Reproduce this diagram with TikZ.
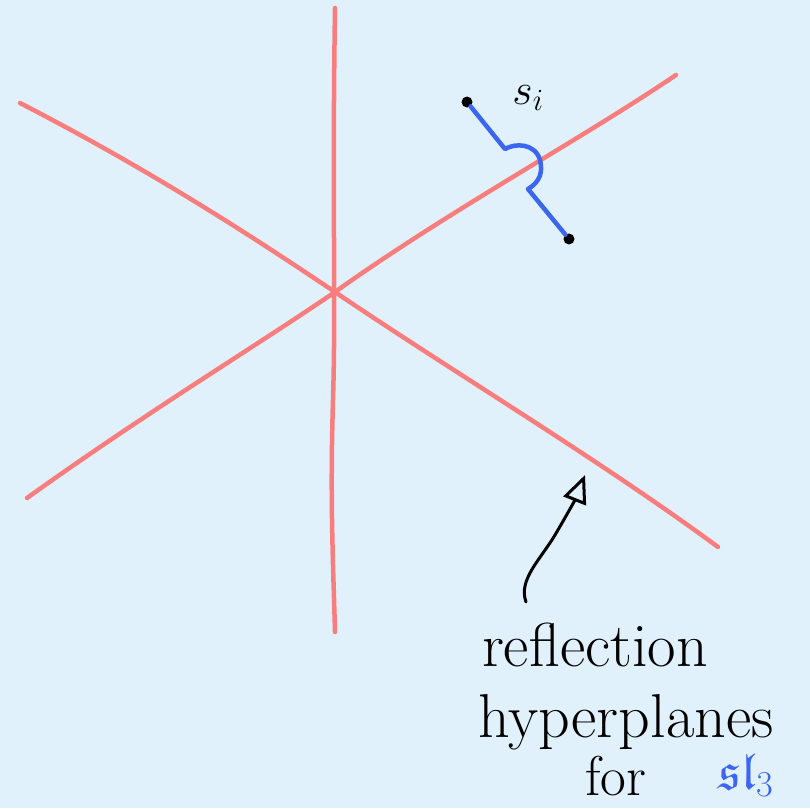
\RequirePackage{fix-cm}
\documentclass[tikz,border=0pt]{standalone}
\usepackage{amssymb}
\usetikzlibrary{arrows.meta}
\definecolor{bg}{HTML}{E1F1FC}
\definecolor{redline}{HTML}{F87E7E}
\definecolor{pathblue}{HTML}{3A66F0}
\tikzset{
  plane/.style={draw=redline, line width=4.5pt, line cap=round, line join=round},
  wall/.style={draw=pathblue, line width=4.5pt, line cap=round, line join=round},
  pt/.style={circle, fill=black, inner sep=0pt, minimum size=11pt},
  hand/.style={inner sep=0pt, anchor=base, font=\fontsize{62}{66}\selectfont},
}
\begin{document}
\begin{tikzpicture}[x=1pt,y=-1pt]
\fill[bg] (0,0) rectangle (810,808);
\useasboundingbox (0,0) rectangle (810,808);
% hyperplanes
\coordinate (vt) at (335,8);
\coordinate (vb) at (335,632);
\coordinate (at) at (20,103);
\coordinate (ab) at (718,547);
\coordinate (bt) at (676,75);
\coordinate (bb) at (27,498);
\coordinate (o) at (335,292);
\draw[plane] (vt) .. controls (332,200) and (336,300) .. (333,400) .. controls (330,500) and (333,560) .. (vb);
\draw[plane] (at) .. controls (150,170) and (250,235) .. (o) .. controls (450,370) and (600,460) .. (ab);
\draw[plane] (bb) .. controls (150,410) and (250,350) .. (o) .. controls (450,210) and (580,140) .. (bt);
% blue path
\node[pt] (p) at (467,102) {};
\node[pt] (q) at (569,239) {};
\draw[wall] (p) -- (505,149) .. controls (515,143) and (535,143) .. (540,160)
  .. controls (543,172) and (540,182) .. (528,189) -- (q);
\node[hand, font=\fontsize{44}{48}\selectfont] (si) at (528,104) {$s_i$};
% annotation
\node[hand] (l1) at (595,666) {reflection};
\node[hand] (l2) at (626,737) {hyperplanes};
\node[hand, font=\fontsize{56}{60}\selectfont] (l3) at (616,795) {for};
\node[hand, text=pathblue, font=\fontsize{52}{56}\selectfont] (l4) at (746,789) {$\mathfrak{sl}_3$};
\coordinate (tail) at (526,602);
\coordinate (tip) at (585,475);
\draw[line width=3pt, line cap=round, -{Triangle[open, length=28pt, width=24pt, line width=3pt]}]
  (tail) .. controls (518,580) and (540,560) .. (555,535) .. controls (565,518) and (575,500) .. (tip);
\end{tikzpicture}
\end{document}
